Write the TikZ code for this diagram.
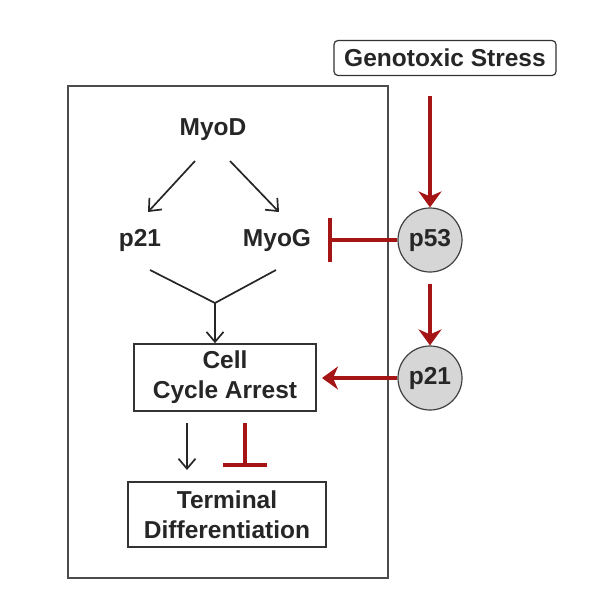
\documentclass[tikz,border=0pt]{standalone}
\usepackage{fontspec}
\setmainfont{Liberation Sans}
\usetikzlibrary{arrows.meta}
\definecolor{inhred}{HTML}{A51515}
\definecolor{circfill}{HTML}{D6D6D6}
\begin{document}
\begin{tikzpicture}[x=1pt,y=-1pt,
  lbl/.style={font=\fontsize{24.5}{28}\selectfont\bfseries, text=black!85, inner sep=0pt},
  boxnode/.style={draw=black!80, line width=1.6pt, align=center, font=\fontsize{24.5}{30}\selectfont\bfseries, text=black!85},
  circnode/.style={circle, draw=black!75, line width=1.2pt, fill=circfill, minimum size=64pt, inner sep=0pt, font=\fontsize{24.5}{28}\selectfont\bfseries, text=black!85},
  blk/.style={draw=black!85, line width=1.7pt, -{Straight Barb[length=10pt,width=17pt,line width=1.7pt]}},
  redarr/.style={draw=inhred, line width=3.6pt, -{Stealth[length=16pt,width=23pt,inset=5pt]}},
  redinh/.style={draw=inhred, line width=3.6pt, -{Bar[width=44pt,line width=3.6pt]}}
]
\useasboundingbox (0,0) rectangle (600,600);
\draw[black!70, line width=1.6pt] (68,86) rectangle (388,578);
\node[boxnode, rounded corners=4pt, line width=1.2pt, minimum width=222pt, minimum height=35pt, inner sep=2pt] (gs) at (445,58) {Genotoxic Stress};
\node[lbl] (myod) at (213,130) {MyoD};
\node[lbl] (p21l) at (140,240) {p21};
\node[lbl] (myog) at (277,240) {MyoG};
\coordinate (join) at (215,303);
\node[boxnode, minimum width=182pt, minimum height=67pt, inner sep=0pt] (cca) at (225,377.5) {Cell\\Cycle Arrest};
\node[boxnode, minimum width=198pt, minimum height=65pt, inner sep=0pt] (td) at (227,514.5) {Terminal\\Differentiation};
\node[circnode] (p53) at (430,240) {p53};
\node[circnode] (p21r) at (430,378) {p21};
% free ends
\coordinate (d1) at (195,161);
\coordinate (d2) at (230,161);
\coordinate (p21e) at (148,212);
\coordinate (myoge) at (279,212);
\coordinate (l1) at (150,270);
\coordinate (l2) at (276,270);
\coordinate (a1) at (187,423);
\coordinate (a2) at (187,470);
\coordinate (t1) at (245,423);
\coordinate (t2) at (245,467);
\coordinate (g1) at (430,96);
\coordinate (i1) at (328,240);
\coordinate (c1) at (322,378);
% black arrows
\draw[blk] (d1) -- (p21e);
\draw[blk] (d2) -- (myoge);
\draw[black!85, line width=1.7pt] (l1) -- (join) -- (l2);
\draw[blk] (join) -- (cca.north -| join);
\draw[blk] (a1) -- (a2);
% red
\draw[redarr] (g1) -- (p53.north);
\draw[redarr] ([yshift=-11pt]p53.south) -- (p21r.north);
\draw[redinh] (p53.west) -- (i1);
\draw[redarr] (p21r.west) -- (c1);
\draw[redinh] (t1) -- (t2);
\end{tikzpicture}
\end{document}
